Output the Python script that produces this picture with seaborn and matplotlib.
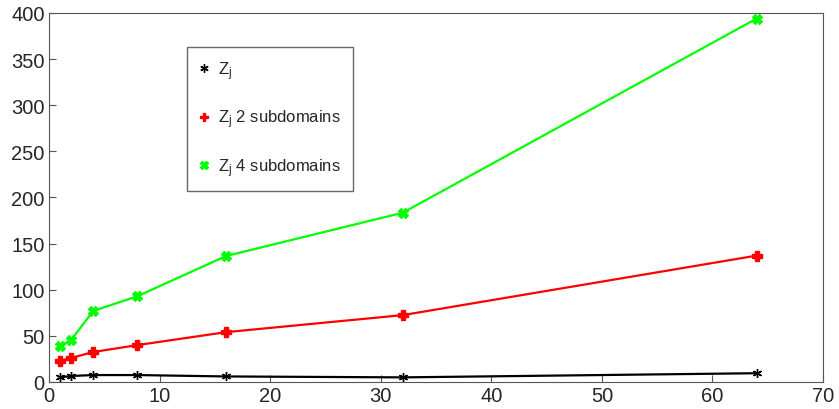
import numpy as np
import pandas as pd
import matplotlib
matplotlib.use('Agg')
import matplotlib.pyplot as plt
import seaborn as sns
from matplotlib.lines import Line2D

# values
procs = [1, 2, 4, 8, 16, 32, 64]
z_j = [5, 6.5, 7.5, 7.5, 6, 5, 9.5]
z_j_2sub = [23, 26, 32.5, 40, 54, 72.5, 137]
z_j_4sub = [39, 45.5, 77, 93, 136.5, 183.5, 394]
labels = ['Z$_{\\mathrm{j}}$', 'Z$_{\\mathrm{j}}$ 2 subdomains', 'Z$_{\\mathrm{j}}$ 4 subdomains']

sns.set_style('ticks')
plt.rcParams['font.family'] = ['Liberation Sans', 'DejaVu Sans']
plt.rcParams['mathtext.fontset'] = 'custom'
plt.rcParams['mathtext.rm'] = 'Liberation Sans'
plt.rcParams['mathtext.it'] = 'Liberation Sans'

df = pd.DataFrame({'x': procs * 3,
                   'y': z_j + z_j_2sub + z_j_4sub,
                   'series': [labels[0]] * 7 + [labels[1]] * 7 + [labels[2]] * 7})

fig = plt.figure(figsize=(8.39, 4.10), dpi=100)
ax = fig.add_axes([0.0584, 0.0659, 0.9226, 0.9])

colors = ['black', '#ff0000', '#00ff00']
markers = [(6, 2, 0), 'P', 'X']
for lab, c, m in zip(labels, colors, markers):
    sub = df[df['series'] == lab]
    sns.lineplot(data=sub, x='x', y='y', ax=ax, color=c, marker=m, markersize=6.5,
                 markeredgecolor=c, markeredgewidth=1.0, linewidth=1.6)

ax.set_xlim(0, 70)
ax.set_ylim(0, 400)
ax.set_xticks(range(0, 71, 10))
ax.set_yticks(range(0, 401, 50))
ax.set_xlabel('')
ax.set_ylabel('')
ax.tick_params(direction='in', labelsize=14.5, color='#555555', length=5, pad=3)
for s in ax.spines.values():
    s.set_color('#555555')
    s.set_visible(True)

handles = [Line2D([], [], linestyle='none', marker=m, color=c, markeredgecolor=c,
                  markersize=6, markeredgewidth=1.0) for c, m in zip(colors, markers)]
leg = ax.legend(handles, labels, loc='upper left', bbox_to_anchor=(0.178, 0.908),
                borderaxespad=0, fontsize=12, frameon=True, fancybox=False,
                edgecolor='#444444', borderpad=0.75, labelspacing=1.55,
                handlelength=0.6, handletextpad=0.5)
leg.get_frame().set_linewidth(1.0)

fig.savefig('out.png', dpi=100)
